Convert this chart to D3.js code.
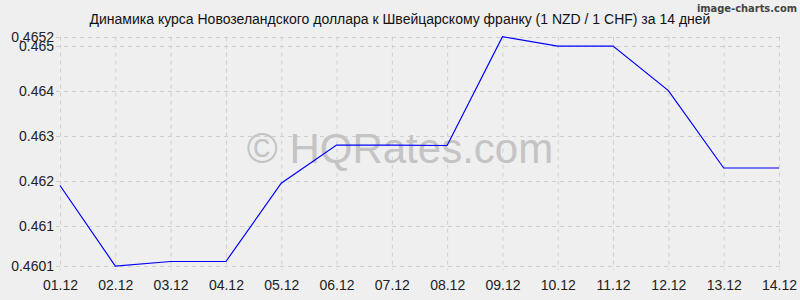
<!DOCTYPE html>
<html><head><meta charset="utf-8">
<script src="https://cdn.jsdelivr.net/npm/d3@7"></script>
<style>body{margin:0;background:#efefef}svg{display:block}</style>
</head><body>
<svg id="c" width="800" height="300"></svg>
<script>
const categories = ["01.12","02.12","03.12","04.12","05.12","06.12","07.12","08.12","09.12","10.12","11.12","12.12","13.12","14.12"];
const values = [0.46189,0.4601,0.46020,0.46020,0.46194,0.46279,0.46279,0.46278,0.4652,0.46499,0.46499,0.4640,0.46228,0.46228];
const yTicks = [0.4601,0.461,0.462,0.463,0.464,0.465,0.4652];
const yTickLabels = ["0.4601","0.461","0.462","0.463","0.464","0.465","0.4652"];
const title = "Динамика курса Новозеландского доллара к Швейцарскому франку (1 NZD / 1 CHF) за 14 дней";

const svg = d3.select("#c");
svg.append("rect").attr("width",800).attr("height",300).attr("fill","#efefef");
const font = "'Liberation Sans', Arial, sans-serif";

const x = d3.scalePoint().domain(categories).range([60,779]);
const y = d3.scaleLinear().domain([0.4601,0.4652]).range([266,36.7]);

// grid
const g = svg.append("g");
g.selectAll("line.v").data(categories).join("line")
  .attr("x1",d=>x(d)+0.5).attr("x2",d=>x(d)+0.5).attr("y1",36.7).attr("y2",270)
  .attr("stroke","#cfcfcf").attr("stroke-dasharray","4,4");
g.selectAll("line.h").data(yTicks).join("line")
  .attr("x1",56).attr("x2",780).attr("y1",d=>Math.round(y(d))+0.5).attr("y2",d=>Math.round(y(d))+0.5)
  .attr("stroke","#cfcfcf").attr("stroke-dasharray","4,4");

// watermark
svg.append("text").attr("x",400).attr("y",163).attr("text-anchor","middle")
  .attr("font-family",font).attr("font-size",42).attr("fill","#c4c4c4")
  .text("© HQRates.com");

// axes labels
const yAxis = d3.axisLeft(y).tickValues(yTicks).tickFormat((d,i)=>yTickLabels[i]).tickSize(0).tickPadding(6);
const ya = svg.append("g").attr("transform","translate(60,0)").call(yAxis);
ya.select(".domain").remove();
ya.selectAll("text").attr("font-family",font).attr("font-size",14).attr("fill","#222");

const xAxis = d3.axisBottom(x).tickSize(0).tickPadding(14);
const xa = svg.append("g").attr("transform","translate(0,266)").call(xAxis);
xa.select(".domain").remove();
xa.selectAll("text").attr("font-family",font).attr("font-size",14).attr("fill","#222");

// line
const line = d3.line().x((d,i)=>x(categories[i])).y(d=>y(d));
svg.append("path").datum(values).attr("d",line).attr("fill","none")
  .attr("stroke","#0000ff").attr("stroke-width",1.2);

// title
svg.append("text").attr("x",400).attr("y",24).attr("text-anchor","middle")
  .attr("font-family",font).attr("font-size",14).attr("fill","#111").text(title);

svg.append("text").attr("x",797).attr("y",12).attr("text-anchor","end")
  .attr("font-family","'DejaVu Sans Condensed', 'DejaVu Sans', sans-serif").attr("font-size",11)
  .attr("font-weight","bold").attr("fill","#444").text("image-charts.com");
</script>
</body></html>
